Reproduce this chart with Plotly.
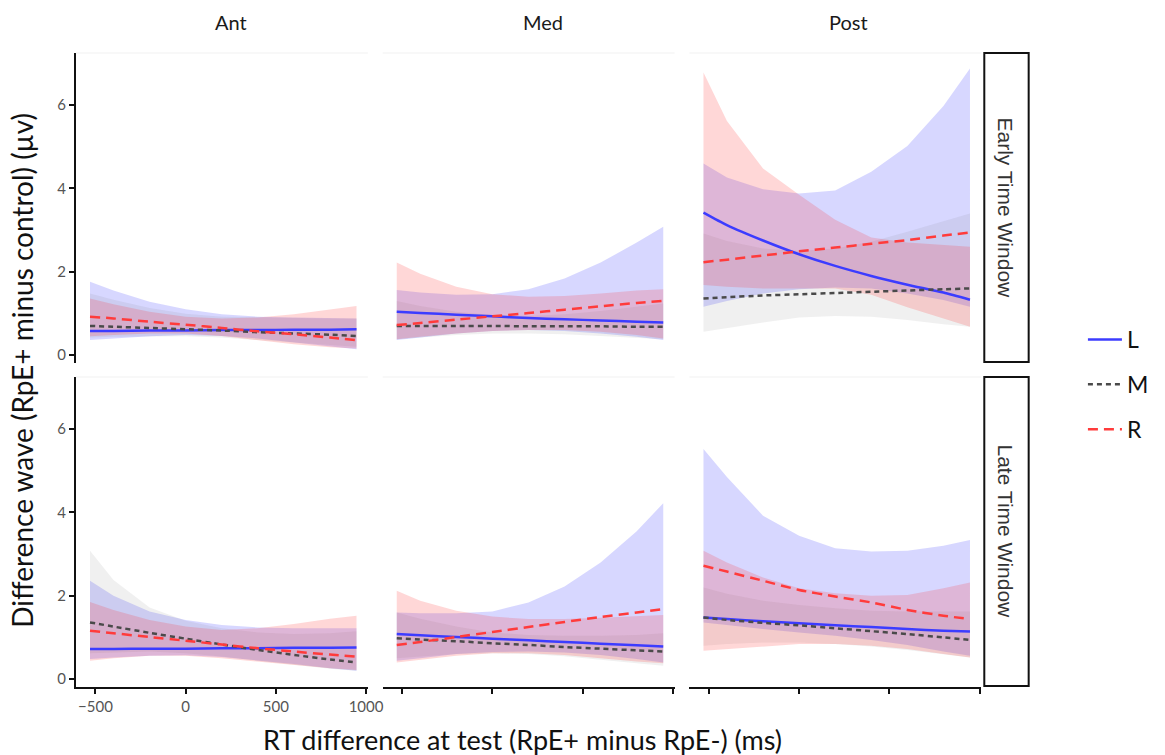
import plotly.graph_objects as go

# RT difference (ms) at which the model predictions were evaluated
RT = [-530, -400, -200, 0, 200, 400, 600, 800, 947]

REGIONS = ["Ant", "Med", "Post"]
WINDOWS = ["Early Time Window", "Late Time Window"]
SIDES = ["L", "M", "R"]

# ---- Early time window -------------------------------------------------
ANT_EARLY_L = [0.58, 0.58, 0.59, 0.59, 0.60, 0.60, 0.61, 0.61, 0.62]
ANT_EARLY_L_LO = [0.36, 0.40, 0.45, 0.48, 0.46, 0.40, 0.31, 0.21, 0.14]
ANT_EARLY_L_HI = [1.76, 1.55, 1.28, 1.10, 0.98, 0.92, 0.90, 0.89, 0.88]
ANT_EARLY_M = [0.70, 0.68, 0.65, 0.62, 0.59, 0.55, 0.52, 0.49, 0.46]
ANT_EARLY_M_LO = [0.42, 0.44, 0.45, 0.45, 0.42, 0.36, 0.30, 0.24, 0.20]
ANT_EARLY_M_HI = [1.48, 1.33, 1.13, 0.99, 0.92, 0.90, 0.89, 0.88, 0.88]
ANT_EARLY_R = [0.92, 0.88, 0.80, 0.73, 0.65, 0.57, 0.50, 0.42, 0.36]
ANT_EARLY_R_LO = [0.45, 0.48, 0.52, 0.52, 0.46, 0.36, 0.26, 0.19, 0.16]
ANT_EARLY_R_HI = [1.36, 1.22, 1.04, 0.92, 0.88, 0.90, 0.98, 1.10, 1.18]

MED_EARLY_L = [1.04, 1.01, 0.97, 0.93, 0.89, 0.86, 0.83, 0.80, 0.78]
MED_EARLY_L_LO = [0.36, 0.42, 0.52, 0.58, 0.60, 0.58, 0.52, 0.44, 0.36]
MED_EARLY_L_HI = [1.56, 1.50, 1.45, 1.46, 1.58, 1.84, 2.22, 2.70, 3.08]
MED_EARLY_M = [0.70, 0.70, 0.70, 0.70, 0.69, 0.69, 0.69, 0.68, 0.68]
MED_EARLY_M_LO = [0.38, 0.42, 0.48, 0.52, 0.52, 0.50, 0.46, 0.42, 0.38]
MED_EARLY_M_HI = [1.30, 1.18, 1.04, 0.96, 0.94, 0.98, 1.06, 1.16, 1.24]
MED_EARLY_R = [0.72, 0.77, 0.85, 0.93, 1.01, 1.09, 1.17, 1.25, 1.30]
MED_EARLY_R_LO = [0.38, 0.44, 0.52, 0.58, 0.60, 0.60, 0.56, 0.48, 0.40]
MED_EARLY_R_HI = [2.22, 1.95, 1.64, 1.46, 1.40, 1.42, 1.48, 1.55, 1.58]

POST_EARLY_L = [3.42, 3.12, 2.75, 2.42, 2.14, 1.90, 1.69, 1.50, 1.33]
POST_EARLY_L_LO = [1.16, 1.30, 1.48, 1.58, 1.62, 1.60, 1.48, 1.32, 1.16]
POST_EARLY_L_HI = [4.60, 4.26, 3.98, 3.88, 3.95, 4.40, 5.02, 5.98, 6.88]
POST_EARLY_M = [1.36, 1.39, 1.43, 1.46, 1.49, 1.52, 1.55, 1.58, 1.60]
POST_EARLY_M_LO = [0.56, 0.64, 0.78, 0.90, 0.94, 0.92, 0.84, 0.74, 0.68]
POST_EARLY_M_HI = [2.92, 2.74, 2.56, 2.50, 2.56, 2.72, 2.96, 3.22, 3.40]
POST_EARLY_R = [2.23, 2.29, 2.39, 2.49, 2.58, 2.67, 2.76, 2.87, 2.94]
POST_EARLY_R_LO = [1.68, 1.64, 1.60, 1.60, 1.60, 1.45, 1.15, 0.88, 0.68]
POST_EARLY_R_HI = [6.78, 5.62, 4.48, 3.85, 3.25, 2.82, 2.70, 2.64, 2.60]

# ---- Late time window --------------------------------------------------
ANT_LATE_L = [0.72, 0.72, 0.73, 0.73, 0.74, 0.74, 0.75, 0.75, 0.76]
ANT_LATE_L_LO = [0.48, 0.52, 0.56, 0.57, 0.53, 0.45, 0.36, 0.26, 0.20]
ANT_LATE_L_HI = [2.36, 2.00, 1.62, 1.42, 1.30, 1.24, 1.22, 1.22, 1.22]
ANT_LATE_M = [1.36, 1.26, 1.11, 0.97, 0.83, 0.70, 0.58, 0.47, 0.40]
ANT_LATE_M_LO = [0.62, 0.64, 0.66, 0.62, 0.54, 0.44, 0.34, 0.25, 0.20]
ANT_LATE_M_HI = [3.08, 2.38, 1.72, 1.40, 1.22, 1.12, 1.08, 1.10, 1.15]
ANT_LATE_R = [1.16, 1.10, 1.01, 0.92, 0.83, 0.74, 0.66, 0.59, 0.54]
ANT_LATE_R_LO = [0.44, 0.50, 0.56, 0.56, 0.50, 0.42, 0.34, 0.26, 0.22]
ANT_LATE_R_HI = [1.85, 1.66, 1.42, 1.26, 1.18, 1.22, 1.32, 1.45, 1.52]

MED_LATE_L = [1.08, 1.05, 1.01, 0.97, 0.93, 0.89, 0.85, 0.81, 0.78]
MED_LATE_L_LO = [0.44, 0.50, 0.60, 0.65, 0.66, 0.64, 0.58, 0.48, 0.40]
MED_LATE_L_HI = [1.60, 1.58, 1.58, 1.62, 1.84, 2.22, 2.80, 3.55, 4.22]
MED_LATE_M = [0.98, 0.95, 0.91, 0.86, 0.82, 0.77, 0.73, 0.69, 0.66]
MED_LATE_M_LO = [0.50, 0.54, 0.60, 0.62, 0.60, 0.55, 0.47, 0.38, 0.32]
MED_LATE_M_HI = [1.60, 1.45, 1.26, 1.12, 1.06, 1.04, 1.04, 1.06, 1.10]
MED_LATE_R = [0.82, 0.89, 1.01, 1.13, 1.25, 1.37, 1.49, 1.60, 1.68]
MED_LATE_R_LO = [0.40, 0.46, 0.56, 0.62, 0.62, 0.58, 0.50, 0.42, 0.38]
MED_LATE_R_HI = [2.12, 1.88, 1.64, 1.50, 1.44, 1.44, 1.47, 1.51, 1.54]

POST_LATE_L = [1.48, 1.44, 1.39, 1.34, 1.29, 1.25, 1.20, 1.16, 1.14]
POST_LATE_L_LO = [1.36, 1.30, 1.20, 1.12, 1.04, 0.94, 0.82, 0.66, 0.56]
POST_LATE_L_HI = [5.52, 4.85, 3.92, 3.44, 3.14, 3.06, 3.08, 3.20, 3.34]
POST_LATE_M = [1.48, 1.42, 1.35, 1.29, 1.22, 1.15, 1.08, 1.00, 0.94]
POST_LATE_M_LO = [0.80, 0.84, 0.88, 0.88, 0.84, 0.78, 0.70, 0.60, 0.52]
POST_LATE_M_HI = [2.20, 2.05, 1.88, 1.78, 1.70, 1.64, 1.62, 1.62, 1.62]
POST_LATE_R = [2.72, 2.58, 2.36, 2.14, 1.98, 1.84, 1.66, 1.52, 1.44]
POST_LATE_R_LO = [0.68, 0.72, 0.78, 0.84, 0.84, 0.80, 0.72, 0.60, 0.52]
POST_LATE_R_HI = [3.08, 2.80, 2.44, 2.18, 2.06, 2.00, 2.02, 2.18, 2.32]

PANELS = {
    (0, 0): {"L": (ANT_EARLY_L, ANT_EARLY_L_LO, ANT_EARLY_L_HI),
             "M": (ANT_EARLY_M, ANT_EARLY_M_LO, ANT_EARLY_M_HI),
             "R": (ANT_EARLY_R, ANT_EARLY_R_LO, ANT_EARLY_R_HI)},
    (0, 1): {"L": (MED_EARLY_L, MED_EARLY_L_LO, MED_EARLY_L_HI),
             "M": (MED_EARLY_M, MED_EARLY_M_LO, MED_EARLY_M_HI),
             "R": (MED_EARLY_R, MED_EARLY_R_LO, MED_EARLY_R_HI)},
    (0, 2): {"L": (POST_EARLY_L, POST_EARLY_L_LO, POST_EARLY_L_HI),
             "M": (POST_EARLY_M, POST_EARLY_M_LO, POST_EARLY_M_HI),
             "R": (POST_EARLY_R, POST_EARLY_R_LO, POST_EARLY_R_HI)},
    (1, 0): {"L": (ANT_LATE_L, ANT_LATE_L_LO, ANT_LATE_L_HI),
             "M": (ANT_LATE_M, ANT_LATE_M_LO, ANT_LATE_M_HI),
             "R": (ANT_LATE_R, ANT_LATE_R_LO, ANT_LATE_R_HI)},
    (1, 1): {"L": (MED_LATE_L, MED_LATE_L_LO, MED_LATE_L_HI),
             "M": (MED_LATE_M, MED_LATE_M_LO, MED_LATE_M_HI),
             "R": (MED_LATE_R, MED_LATE_R_LO, MED_LATE_R_HI)},
    (1, 2): {"L": (POST_LATE_L, POST_LATE_L_LO, POST_LATE_L_HI),
             "M": (POST_LATE_M, POST_LATE_M_LO, POST_LATE_M_HI),
             "R": (POST_LATE_R, POST_LATE_R_LO, POST_LATE_R_HI)},
}

X_TICKS = [-500, 0, 500, 1000]
Y_TICKS = [0, 2, 4, 6]

LINE_STYLE = {
    "L": dict(color="#3c3cff", dash="solid", width=2.5),
    "M": dict(color="#4a4a4a", dash="5px,4px", width=2.5),
    "R": dict(color="#ff3b3b", dash="10px,6px", width=2.5),
}
FILL = {
    "L": "rgba(40,40,255,0.19)",
    "M": "rgba(110,110,110,0.10)",
    "R": "rgba(255,40,40,0.19)",
}

W, H = 1165, 755
COL_PX = [(77, 373), (388, 684), (699, 995)]
ROW_PX = [(53, 363), (377, 687)]
FONT = "Lato, 'Open Sans', sans-serif"
STRIP_FONT = "'Liberation Sans', Arial, sans-serif"


def px_x(p):
    return p / W


def px_y(p):
    return 1 - p / H


fig = go.Figure()
layout = {}

for (r, c), series in PANELS.items():
    idx = r * 3 + c + 1
    xa = "x" if idx == 1 else f"x{idx}"
    ya = "y" if idx == 1 else f"y{idx}"

    # confidence ribbons first, then the fitted lines on top
    for s in SIDES:
        mean, lo, hi = series[s]
        fig.add_trace(go.Scatter(
            x=RT + RT[::-1], y=hi + lo[::-1], xaxis=xa, yaxis=ya,
            fill="toself", fillcolor=FILL[s], line=dict(width=0),
            mode="lines", hoverinfo="skip", showlegend=False))
    for s in SIDES:
        mean, lo, hi = series[s]
        fig.add_trace(go.Scatter(
            x=RT, y=mean, xaxis=xa, yaxis=ya, mode="lines",
            line=dict(shape="spline", smoothing=0.6, **LINE_STYLE[s]),
            name=s, legendgroup=s, showlegend=(idx == 1)))

    x0, x1 = COL_PX[c]
    y0, y1 = ROW_PX[r]
    bottom = r == 1
    left = c == 0
    layout[f"xaxis{'' if idx == 1 else idx}"] = dict(
        domain=[px_x(x0), px_x(x1)], anchor=ya, range=[-608, 1010],
        showgrid=False, zeroline=False,
        showline=bottom, linecolor="#111111", linewidth=2,
        ticks="outside" if bottom else "", ticklen=5, tickwidth=1.5,
        tickcolor="#111111", tickvals=X_TICKS,
        showticklabels=bottom and left,
        tickfont=dict(family=FONT, size=15, color="#555555"))
    layout[f"yaxis{'' if idx == 1 else idx}"] = dict(
        domain=[px_y(y1), px_y(y0)], anchor=xa, range=[-0.19, 7.25],
        showgrid=False, zeroline=False,
        showline=left, linecolor="#111111", linewidth=2,
        ticks="outside" if left else "", ticklen=5, tickwidth=1.5,
        tickcolor="#111111", tickvals=Y_TICKS,
        showticklabels=left,
        tickfont=dict(family=FONT, size=15, color="#555555"))

shapes = []
annotations = []

# faint strip edge along the top of each panel
for r in range(2):
    for c in range(3):
        x0, x1 = COL_PX[c]
        y0, _ = ROW_PX[r]
        shapes.append(dict(type="line", xref="paper", yref="paper",
                           x0=px_x(x0), x1=px_x(x1), y0=px_y(y0), y1=px_y(y0),
                           line=dict(color="#f1f1f1", width=1)))

# column strip labels
for name, cx in zip(REGIONS, [234, 551, 860]):
    annotations.append(dict(text=name, x=px_x(cx), y=px_y(22), xref="paper",
                            yref="paper", showarrow=False,
                            xanchor="center", yanchor="middle",
                            font=dict(family=FONT, size=20, color="#1a1a1a")))

# row strip boxes on the right
for name, (y0, y1) in zip(WINDOWS, ROW_PX):
    shapes.append(dict(type="rect", xref="paper", yref="paper",
                       x0=px_x(998), x1=px_x(1043), y0=px_y(y1 - 1), y1=px_y(y0),
                       line=dict(color="#111111", width=2), fillcolor="white"))
    annotations.append(dict(text=name, x=px_x(1020.5), y=px_y((y0 + y1) / 2),
                            xref="paper", yref="paper", showarrow=False,
                            xanchor="center", yanchor="middle", textangle=90,
                            font=dict(family=STRIP_FONT, size=21,
                                      color="#333333")))

annotations.append(dict(text="Difference wave (RpE+ minus control) (µv)",
                        x=px_x(22), y=px_y(370), xref="paper", yref="paper",
                        showarrow=False, textangle=-90,
                        xanchor="center", yanchor="middle",
                        font=dict(family=FONT, size=28, color="#111111")))
annotations.append(dict(text="RT difference at test (RpE+ minus RpE-) (ms)",
                        x=px_x(530), y=px_y(739), xref="paper", yref="paper",
                        showarrow=False, xanchor="center", yanchor="middle",
                        font=dict(family=FONT, size=27, color="#111111")))

fig.update_layout(
    width=W, height=H, margin=dict(l=0, r=0, t=0, b=0),
    paper_bgcolor="white", plot_bgcolor="white",
    shapes=shapes, annotations=annotations,
    legend=dict(x=px_x(1098), y=px_y(318), xanchor="left", yanchor="top",
                font=dict(family=FONT, size=23, color="#111111"),
                itemwidth=34, tracegroupgap=12, bgcolor="rgba(0,0,0,0)"),
    **layout,
)

fig.write_html("out.html")
